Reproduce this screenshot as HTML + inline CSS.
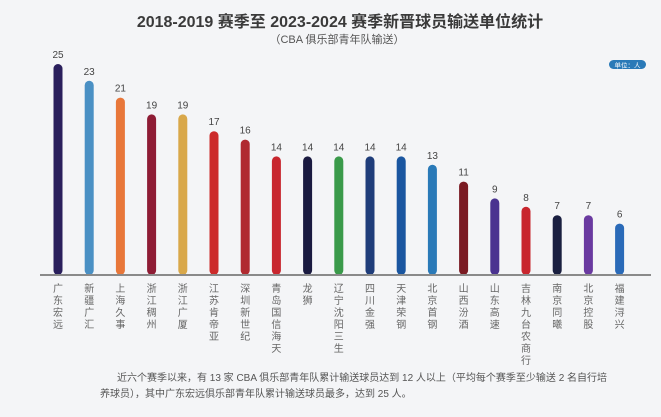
<!DOCTYPE html>
<html><head><meta charset="utf-8">
<style>
html,body{margin:0;padding:0;}
body{width:661px;height:412px;overflow:hidden;background:#f4f5f7;font-family:"Liberation Sans","Noto Sans CJK SC",sans-serif;}
svg text{font-family:"Liberation Sans","Noto Sans CJK SC",sans-serif;}
</style></head>
<body>
<svg id="chart" width="661" height="412" viewBox="0 0 661 412" xmlns="http://www.w3.org/2000/svg">
<rect x="0" y="0" width="661" height="412" fill="#f4f5f7"/>
<text x="340" y="27" text-anchor="middle" font-size="16" font-weight="bold" fill="#3a3a3a">2018-2019 赛季至 2023-2024 赛季新晋球员输送单位统计</text>
<text x="337" y="43" text-anchor="middle" font-size="11" fill="#555">（CBA 俱乐部青年队输送）</text>
<g>
<rect x="609" y="60" width="37" height="9" rx="4.5" fill="#2a7ab8"/>
<text x="627.5" y="67.3" text-anchor="middle" font-size="6.5" fill="#fff">单位：人</text>
</g>
<g id="bars"></g>
<line x1="40" y1="275" x2="651" y2="275" stroke="#8a8a8a" stroke-width="2"/>
<text x="117" y="381" font-size="10" fill="#555">近六个赛季以来，有 13 家 CBA 俱乐部青年队累计输送球员达到 12 人以上（平均每个赛季至少输送 2 名自行培</text>
<text x="100" y="397" font-size="10" fill="#555">养球员），其中广东宏远俱乐部青年队累计输送球员最多，达到 25 人。</text>
</svg>
<script>
const categories=["广东宏远","新疆广汇","上海久事","浙江稠州","浙江广厦","江苏肯帝亚","深圳新世纪","青岛国信海天","龙狮","辽宁沈阳三生","四川金强","天津荣钢","北京首钢","山西汾酒","山东高速","吉林九台农商行","南京同曦","北京控股","福建浔兴"];
const values=[25,23,21,19,19,17,16,14,14,14,14,14,13,11,9,8,7,7,6];
const colors=["#2a1f5c","#4a90c4","#e8773a","#8e1c35","#d9a84a","#cc2a2a","#b02a30","#c8262e","#1a1a40","#3a9a4a","#1f3d7a","#1a56a0","#2a7ab8","#7a1a22","#4a3390","#c8262e","#1a1f40","#6a3aa0","#2a6ab8"];
const NS="http://www.w3.org/2000/svg";
const g=document.getElementById("bars");
const x0=58, step=31.2, base=274, unit=8.4, bw=9;
const xs=i=>x0+i*step;
const ys=v=>base-v*unit;
categories.forEach((c,i)=>{
  const cx=xs(i), top=ys(values[i]);
  const r=document.createElementNS(NS,"rect");
  r.setAttribute("x",cx-bw/2);r.setAttribute("y",top);
  r.setAttribute("width",bw);r.setAttribute("height",base-top+1);
  r.setAttribute("rx",4.5);r.setAttribute("fill",colors[i]);
  
  
  g.appendChild(r);
  const t=document.createElementNS(NS,"text");
  t.setAttribute("x",cx);t.setAttribute("y",top-6);
  t.setAttribute("text-anchor","middle");t.setAttribute("font-size","10");t.setAttribute("fill","#444");
  t.textContent=values[i];
  
  
  g.appendChild(t);
  const l=document.createElementNS(NS,"text");
  l.setAttribute("font-size","10");l.setAttribute("fill","#666");
  l.setAttribute("text-anchor","middle");
  
  
  [...c].forEach((ch,k)=>{
    const s=document.createElementNS(NS,"tspan");
    s.setAttribute("x",cx);s.setAttribute("y",292+k*12);
    s.textContent=ch;l.appendChild(s);
  });
  g.appendChild(l);
});
</script>
</body></html>
